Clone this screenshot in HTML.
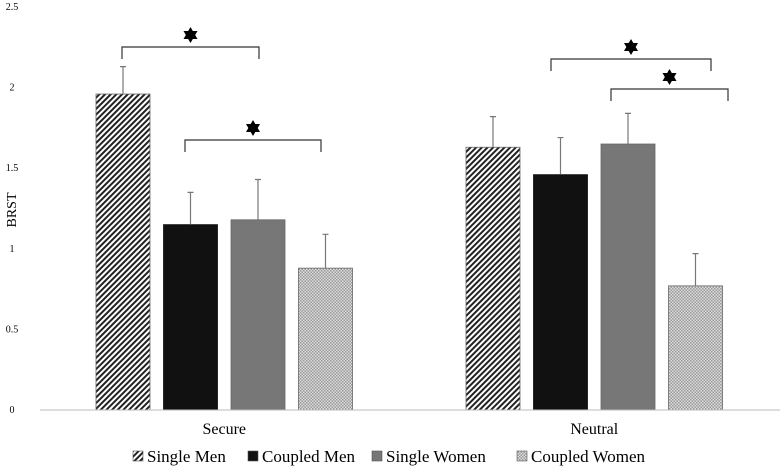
<!DOCTYPE html>
<html><head><meta charset="utf-8"><style>
body{margin:0;background:#fff}
svg{display:block;font-family:"Liberation Serif","Times New Roman","DejaVu Serif",serif}
svg text{font-family:"Liberation Serif","Times New Roman","DejaVu Serif",serif}
</style></head><body>
<svg width="780" height="470" viewBox="0 0 780 470">
<defs>
<pattern id="hatch" patternUnits="userSpaceOnUse" width="4" height="4" patternTransform="rotate(45)">
<rect width="4" height="4" fill="#fff"/><rect width="2" height="4" fill="#222"/></pattern>
<pattern id="check" patternUnits="userSpaceOnUse" width="3" height="3">
<rect width="3" height="3" fill="#ddd"/><rect width="1.5" height="1.5" fill="#999"/><rect x="1.5" y="1.5" width="1.5" height="1.5" fill="#999"/></pattern>
</defs>
<g id="plot" style="font-family:'Liberation Serif','Times New Roman','DejaVu Serif',serif"></g>
</svg>
<script>
const categories=["Secure","Neutral"];
const seriesNames=["Single Men","Coupled Men","Single Women","Coupled Women"];
const singleMen=[1.96,1.63];
const coupledMen=[1.15,1.46];
const singleWomen=[1.18,1.65];
const coupledWomen=[0.88,0.77];
const errSingleMen=[0.17,0.19];
const errCoupledMen=[0.20,0.23];
const errSingleWomen=[0.25,0.19];
const errCoupledWomen=[0.21,0.20];
const yTicks=[0,0.5,1,1.5,2,2.5];
const yTickLabels=["0","0.5","1","1.5","2","2.5"];
const NS="http://www.w3.org/2000/svg";
const g=document.getElementById('plot');
const y0=410,ppu=161.2;
function yS(v){return y0-v*ppu;}
const groupStart=[96,466],barW=54,barStep=67.5;
function xS(ci,si){return groupStart[ci]+si*barStep;}
function mk(t,a,txt){const e=document.createElementNS(NS,t);for(const k in a)e.setAttribute(k,a[k]);if(txt!==undefined)e.textContent=txt;g.appendChild(e);return e;}
yTicks.forEach((v,i)=>{
 const t=mk('text',{x:12,y:yS(v)+3,'font-size':10,'text-anchor':'middle'},yTickLabels[i]);
 
 
});
const yt=mk('text',{x:16,y:210,'font-size':14,'text-anchor':'middle',transform:'rotate(-90 16 210)'},'BRST');


const fills=['url(#hatch)','#111','#777','url(#check)'];
const vals=[singleMen,coupledMen,singleWomen,coupledWomen];
const errs=[errSingleMen,errCoupledMen,errSingleWomen,errCoupledWomen];
categories.forEach((c,ci)=>{
 vals.forEach((arr,si)=>{
  const x=xS(ci,si),v=arr[ci];
  const r=mk('rect',{x:x,y:yS(v),width:barW,height:y0-yS(v),fill:fills[si],stroke:si==1?'#111':'#666','stroke-width':0.8});
  
  
  const cx=x+barW/2,top=yS(v+errs[si][ci]);
  const e=mk('path',{d:`M${cx} ${yS(v)}V${top}M${cx-3} ${top}H${cx+3}`,stroke:'#777','stroke-width':1.2,fill:'none'});
  
  
 });
 const lx=groupStart[ci]+(3*barStep+barW)/2;
 const lt=mk('text',{x:lx,y:434,'font-size':16,'text-anchor':'middle'},c);
 
 
});
const ax=mk('line',{x1:40,x2:780,y1:y0,y2:y0,stroke:'#bbb','stroke-width':1});


const brackets=[[122,259,47,59],[185,321,140,152],[551,711,59,71],[611,728,89,101]];
brackets.forEach(b=>{
 const p=mk('path',{d:`M${b[0]} ${b[3]}V${b[2]}H${b[1]}V${b[3]}`,stroke:'#333','stroke-width':1.2,fill:'none'});
 
 
 const sx=(b[0]+b[1])/2,sy=b[2]-12;
 const s=mk('path',{d:`M${sx} ${sy-8}L${sx+7} ${sy+4}L${sx-7} ${sy+4}Z`,fill:'#000'});
 
 
 const s2=mk('path',{d:`M${sx} ${sy+8}L${sx-7} ${sy-4}L${sx+7} ${sy-4}Z`,fill:'#000'});
 
 
});
const legX=[133,248,372,517];
seriesNames.forEach((n,i)=>{
 const r=mk('rect',{x:legX[i],y:451,width:10,height:10,fill:fills[i],stroke:'#555','stroke-width':0.6});
 
 
 const t=mk('text',{x:legX[i]+14,y:462,'font-size':17},n);
 
 
});
</script>
</body></html>
